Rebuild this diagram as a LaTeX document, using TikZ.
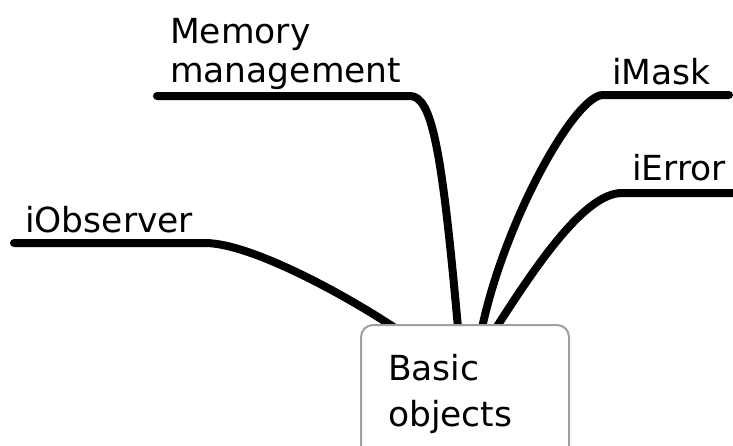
\documentclass[tikz,border=0pt]{standalone}
\usepackage{fontspec}
\setmainfont{DejaVu Sans}

\begin{document}
\begin{tikzpicture}[x=1pt, y=-1pt,
	branch/.style={line width=8pt, line cap=round},
	leaf/.style={anchor=base west, inner sep=0pt, align=left, font=\fontsize{34.5}{39}\selectfont},
	topic/.style={draw=gray!75, line width=2pt, rounded corners=12pt, fill=white, anchor=north west,
		text width=154pt, inner xsep=27pt, inner ysep=29pt, align=left, font=\fontsize{34.5}{46}\selectfont}]
	\useasboundingbox (0, 0) rectangle (733, 445);
	% labels
	\node[leaf] (memory) at (170, 82) {Memory\\management};
	\node[leaf] (imask) at (612, 84) {iMask};
	\node[leaf] (ierror) at (632, 180) {iError};
	\node[leaf] (iobserver) at (25, 232) {iObserver};
	% branch ends
	\coordinate (memoryL) at (157, 96);
	\coordinate (memoryR) at (410, 96);
	\coordinate (memoryE) at (458, 328);
	\coordinate (imaskL) at (603, 95);
	\coordinate (imaskR) at (729, 95);
	\coordinate (imaskE) at (482, 328);
	\coordinate (ierrorL) at (622, 193);
	\coordinate (ierrorR) at (740, 193);
	\coordinate (ierrorE) at (496, 328);
	\coordinate (iobserverL) at (14, 243);
	\coordinate (iobserverR) at (205, 243);
	\coordinate (iobserverE) at (395, 328);
	\draw[branch] (memoryL) -- (memoryR) .. controls (432, 96) and (442, 150) .. (memoryE);
	\draw[branch] (imaskR) -- (imaskL) .. controls (575, 95) and (505, 220) .. (imaskE);
	\draw[branch] (ierrorR) -- (ierrorL) .. controls (585, 193) and (537, 264) .. (ierrorE);
	\draw[branch] (iobserverL) -- (iobserverR) .. controls (250, 243) and (344, 294) .. (iobserverE);
	% centre
	\node[topic] (basic) at (360, 324) {Basic\\objects};
\end{tikzpicture}
\end{document}
